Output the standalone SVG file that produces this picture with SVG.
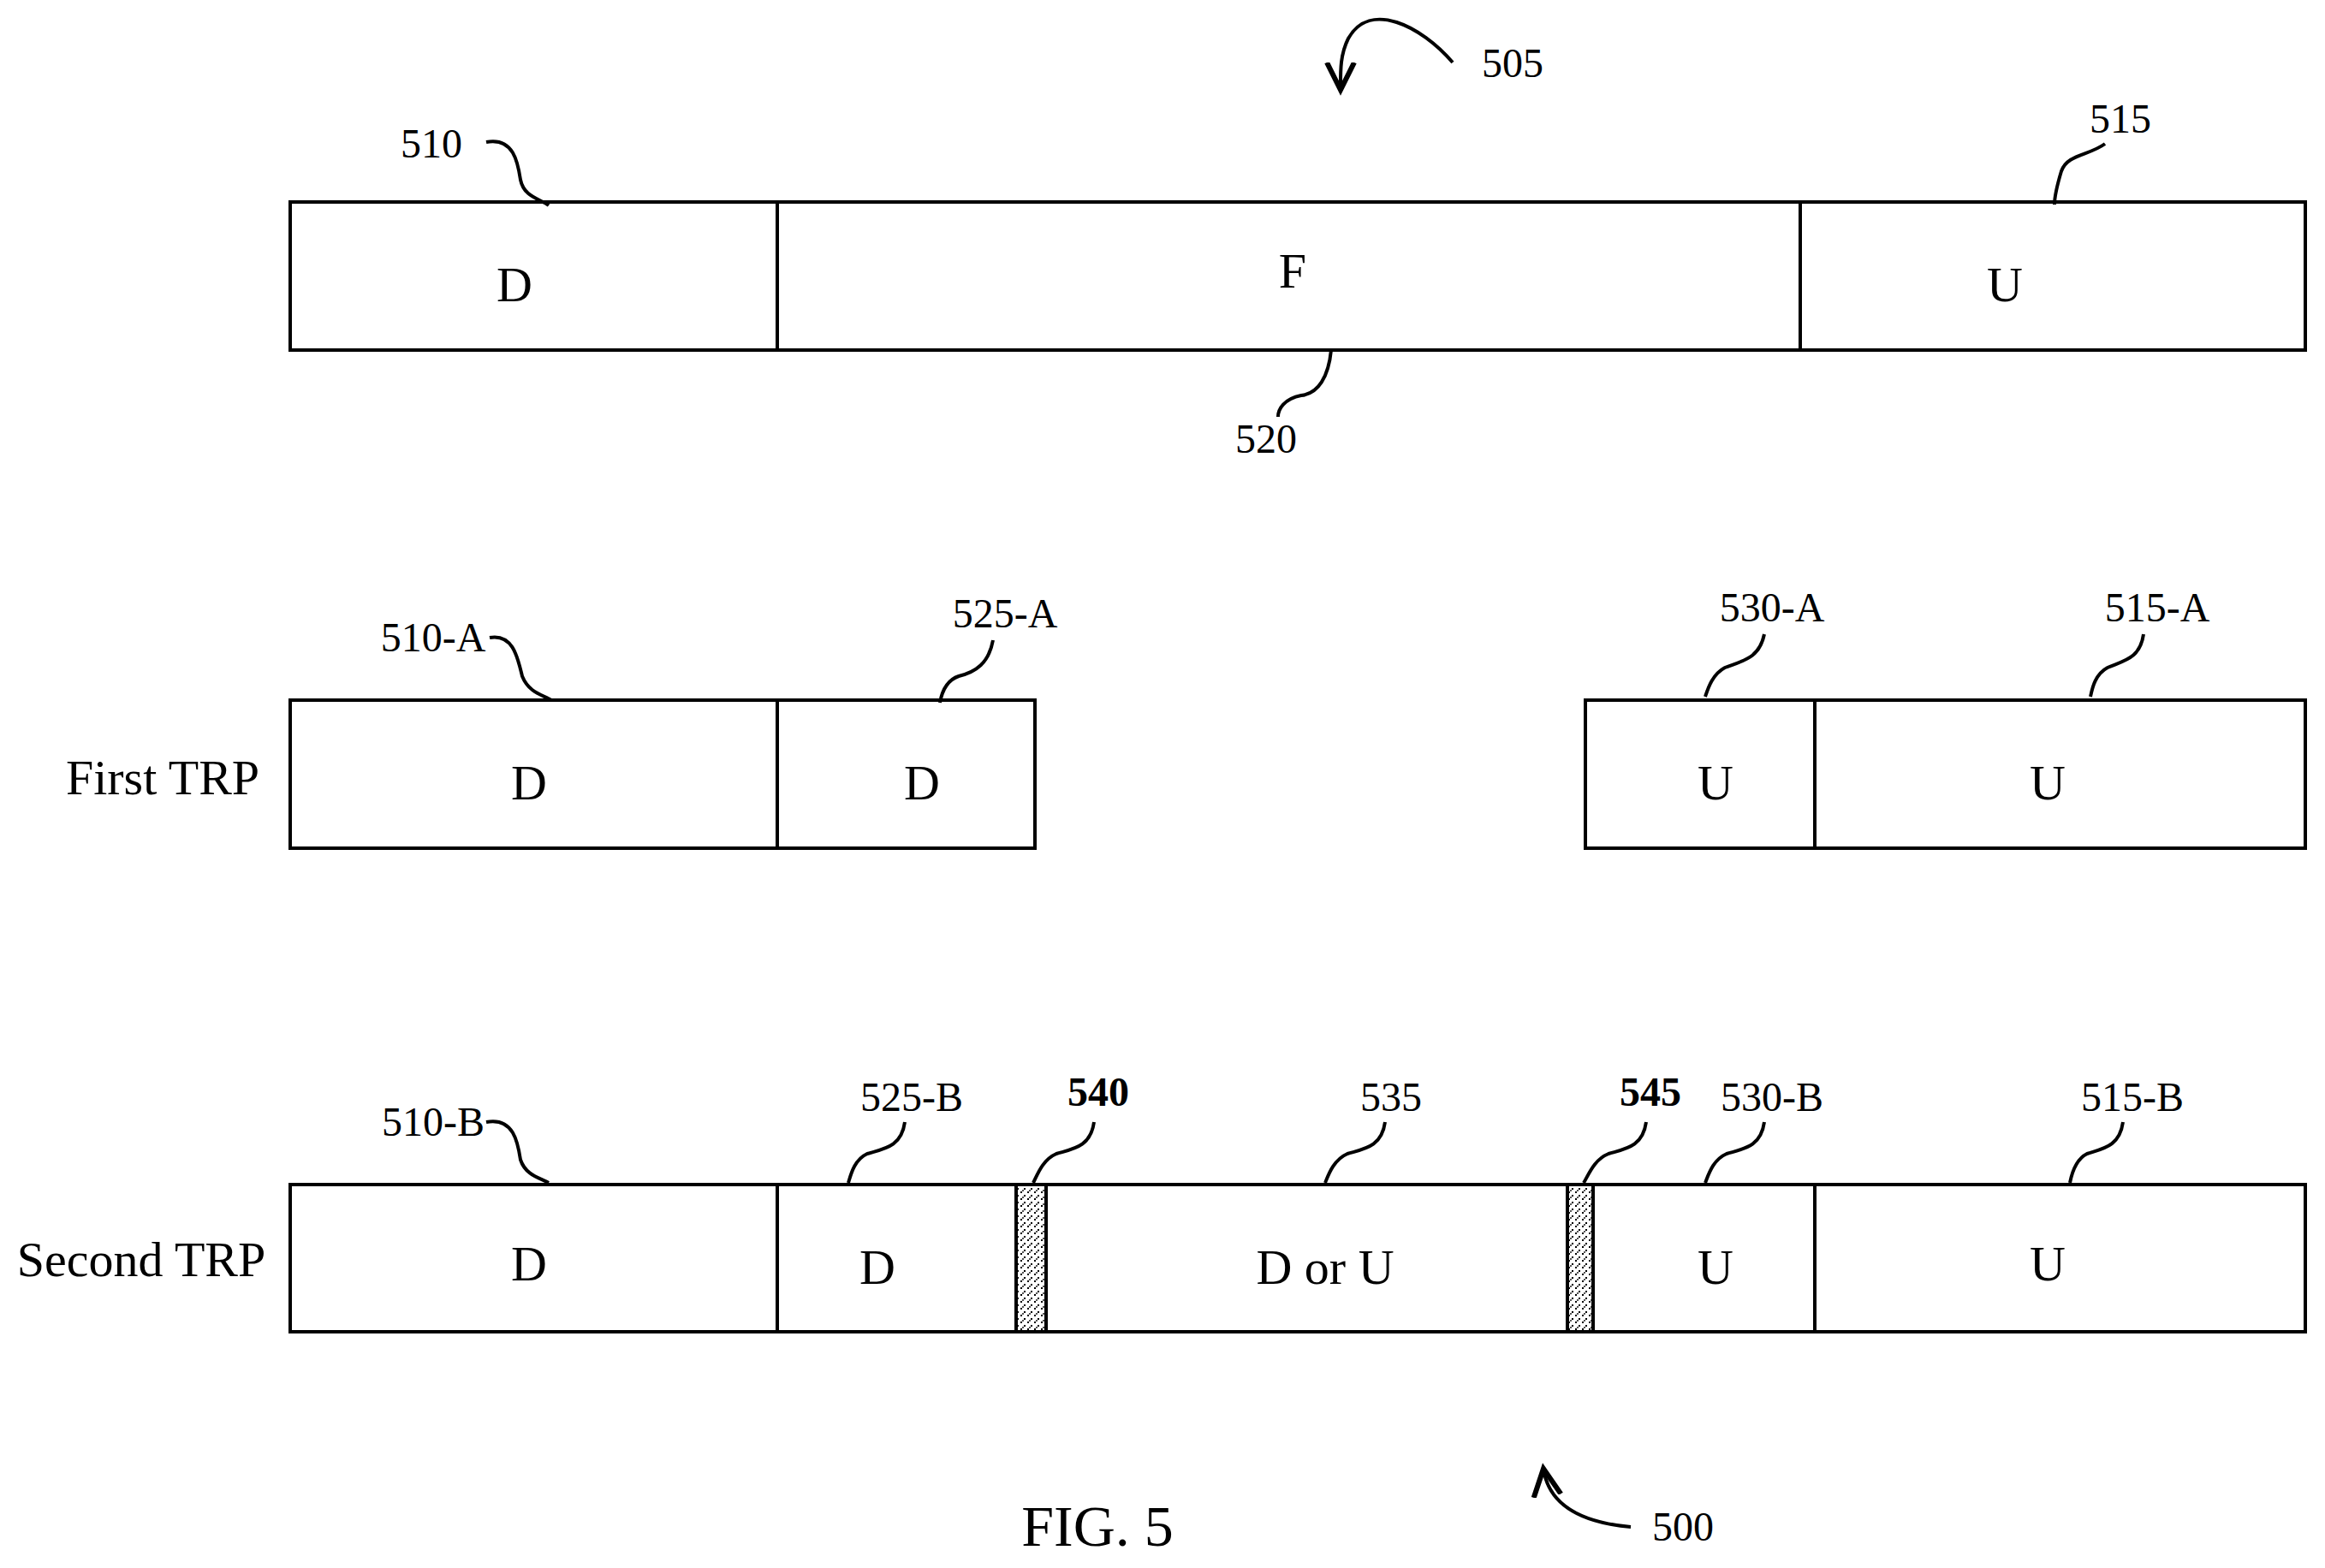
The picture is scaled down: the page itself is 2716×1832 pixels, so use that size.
<svg xmlns="http://www.w3.org/2000/svg" width="2716" height="1832" viewBox="0 0 2716 1832">
<style>
text{font-family:"Liberation Serif","Times New Roman",serif;fill:#000}
.lbl{font-size:48px;text-anchor:middle}
.big{font-size:58px;text-anchor:middle}
.b{font-weight:bold}
.box{fill:#fff;stroke:#000;stroke-width:4}
.ld{fill:none;stroke:#000;stroke-width:4}
.gap{fill:url(#hatch);stroke:#000;stroke-width:4}
</style>
<defs>
<pattern id="hatch" width="8" height="8" patternUnits="userSpaceOnUse">
<rect width="8" height="8" fill="#fff"/>
<rect x="0" y="0" width="2" height="2" fill="#000"/><rect x="4" y="4" width="2" height="2" fill="#000"/><rect x="2" y="6" width="2" height="2" fill="#555"/>
</pattern>
<marker id="ah" markerWidth="10" markerHeight="10" refX="8" refY="5" orient="auto" markerUnits="strokeWidth"><path d="M0,1 L8,5 L0,9" fill="none" stroke="#000" stroke-width="1.5"/></marker>
</defs>
<g id="frame505">
<rect class="box" x="339" y="236" width="2354" height="173"/>
<line class="box" x1="908" y1="236" x2="908" y2="409"/>
<line class="box" x1="2103" y1="236" x2="2103" y2="409"/>
<text class="big" x="601" y="352">D</text>
<text class="big" x="1510" y="336">F</text>
<text class="big" x="2342" y="352">U</text>
</g>
<g id="first-trp">
<text class="big" x="190" y="928">First TRP</text>
<rect class="box" x="339" y="818" width="870" height="173"/>
<line class="box" x1="908" y1="818" x2="908" y2="991"/>
<rect class="box" x="1852" y="818" width="841" height="173"/>
<line class="box" x1="2120" y1="818" x2="2120" y2="991"/>
<text class="big" x="618" y="934">D</text>
<text class="big" x="1077" y="934">D</text>
<text class="big" x="2004" y="934">U</text>
<text class="big" x="2392" y="934">U</text>
</g>
<g id="second-trp">
<text class="big" x="165" y="1491">Second TRP</text>
<rect class="box" x="339" y="1384" width="2354" height="172"/>
<line class="box" x1="908" y1="1384" x2="908" y2="1556"/>
<rect class="gap" x="1187" y="1384" width="35" height="172"/>
<rect class="gap" x="1831" y="1384" width="30" height="172"/>
<line class="box" x1="2120" y1="1384" x2="2120" y2="1556"/>
<text class="big" x="618" y="1496">D</text>
<text class="big" x="1025" y="1500">D</text>
<text class="big" x="1548" y="1500">D or U</text>
<text class="big" x="2004" y="1500">U</text>
<text class="big" x="2392" y="1496">U</text>
</g>
<g id="labels">
<text class="lbl" x="1767" y="90">505</text>
<text class="lbl" x="504" y="184">510</text>
<text class="lbl" x="2477" y="155">515</text>
<text class="lbl" x="1479" y="529">520</text>
<text class="lbl" x="506" y="761">510-A</text>
<text class="lbl" x="1174" y="733">525-A</text>
<text class="lbl" x="2070" y="726">530-A</text>
<text class="lbl" x="2520" y="726">515-A</text>
<text class="lbl" x="506" y="1327">510-B</text>
<text class="lbl" x="1065" y="1298">525-B</text>
<text class="lbl b" x="1283" y="1292">540</text>
<text class="lbl" x="1625" y="1298">535</text>
<text class="lbl b" x="1928" y="1292">545</text>
<text class="lbl" x="2070" y="1298">530-B</text>
<text class="lbl" x="2491" y="1298">515-B</text>
<text class="lbl" x="1966" y="1800">500</text>
<text x="1282" y="1806" style="font-size:68px;text-anchor:middle">FIG. 5</text>
</g>
<g id="connectors">
<path class="ld" d="M1697,73 C1660,30 1600,0 1575,45 C1565,65 1566,85 1566,105" marker-end="url(#ah)"/>
<path class="ld" d="M1905,1784 C1860,1780 1810,1765 1803,1716" marker-end="url(#ah)"/>
<path class="ld" d="M568,166 C600,160 605,190 608,210 C612,230 630,232 641,240"/>
<path class="ld" d="M2459,168 C2440,182 2415,180 2408,200 C2402,220 2400,230 2400,239"/>
<path class="ld" d="M1555,409 C1552,440 1540,460 1520,462 C1500,466 1493,478 1493,487"/>
<path class="ld" d="M572,745 C600,740 605,770 610,790 C618,810 635,812 644,818"/>
<path class="ld" d="M1160,748 C1155,775 1140,785 1120,790 C1105,795 1100,810 1098,821"/>
<path class="ld" d="M2061,741 C2055,770 2035,772 2015,780 C2000,788 1995,805 1992,814"/>
<path class="ld" d="M2504,741 C2500,770 2480,772 2462,780 C2447,788 2444,805 2442,814"/>
<path class="ld" d="M568,1311 C600,1305 605,1335 608,1355 C614,1373 630,1376 641,1382"/>
<path class="ld" d="M1057,1311 C1053,1340 1033,1342 1013,1348 C998,1355 994,1372 991,1382"/>
<path class="ld" d="M1278,1311 C1274,1340 1254,1342 1234,1348 C1218,1355 1212,1372 1207,1382"/>
<path class="ld" d="M1618,1311 C1614,1340 1594,1342 1574,1348 C1558,1355 1552,1372 1548,1382"/>
<path class="ld" d="M1923,1311 C1919,1340 1899,1342 1879,1348 C1862,1355 1856,1372 1850,1382"/>
<path class="ld" d="M2061,1311 C2057,1340 2037,1342 2017,1348 C2001,1355 1996,1372 1992,1382"/>
<path class="ld" d="M2480,1311 C2476,1340 2456,1342 2438,1348 C2424,1355 2420,1372 2418,1382"/>
</g>
</svg>
